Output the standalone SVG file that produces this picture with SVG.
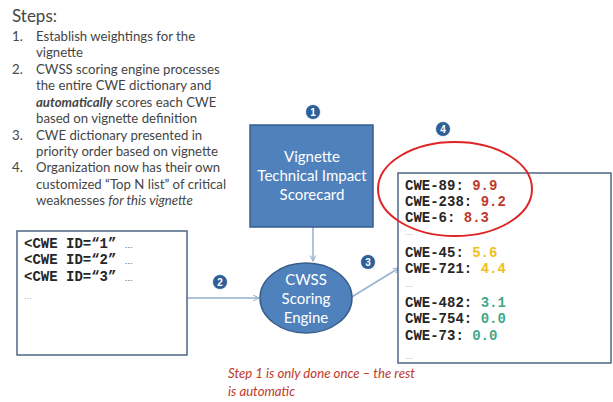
<svg xmlns="http://www.w3.org/2000/svg" width="613" height="402" viewBox="0 0 613 402">
<style>
.body{font-family:Lato,"Open Sans","Liberation Sans",sans-serif;fill:#454545;font-size:13.2px}
.mono{font-family:"Liberation Mono","Courier New",monospace;font-weight:bold;font-size:14px;fill:#262626}
.dots{font-family:"Liberation Sans",sans-serif;font-size:8px;fill:#7f7f7f}
.white{font-family:Lato,"Open Sans","Liberation Sans",sans-serif;font-size:15px;fill:#ffffff;text-anchor:middle}
.num{font-family:"Liberation Sans",sans-serif;font-weight:bold;font-size:10px;fill:#ffffff;text-anchor:middle}
.badge{fill:#2f5f98;stroke:#ffffff;stroke-width:0.8}
.conn{stroke:#95b0d0;stroke-width:1.5;fill:none;marker-end:url(#arr)}
.red{fill:#c0392b}.yel{fill:#f0c020}.grn{fill:#3fa88a}
</style>
<defs>
<marker id="arr" viewBox="0 0 10 10" refX="9" refY="5" markerWidth="7" markerHeight="7" orient="auto" markerUnits="userSpaceOnUse">
<path d="M1,1 L9,5 L1,9" fill="none" stroke="#95b0d0" stroke-width="1.5"/>
</marker>
</defs>
<rect width="613" height="402" fill="#ffffff"/>

<g id="steps">
<text x="12" y="22" class="body" style="font-size:17px">Steps:</text>
<text class="body">
<tspan x="12" y="41">1.</tspan><tspan x="36" y="41">Establish weightings for the</tspan>
<tspan x="36" y="57">vignette</tspan>
<tspan x="12" y="74">2.</tspan><tspan x="36" y="74">CWSS scoring engine processes</tspan>
<tspan x="36" y="90">the entire CWE dictionary and</tspan>
<tspan x="36" y="107" font-weight="bold" font-style="italic">automatically</tspan><tspan> scores each CWE</tspan>
<tspan x="36" y="123">based on vignette definition</tspan>
<tspan x="12" y="140">3.</tspan><tspan x="36" y="140">CWE dictionary presented in</tspan>
<tspan x="36" y="156">priority order based on vignette</tspan>
<tspan x="12" y="172">4.</tspan><tspan x="36" y="172">Organization now has their own</tspan>
<tspan x="36" y="189">customized “Top N list” of critical</tspan>
<tspan x="36" y="205">weaknesses </tspan><tspan font-style="italic">for this vignette</tspan>
</text>
</g>

<g id="connectors">
<line x1="187" y1="298" x2="259" y2="298" class="conn"/>
<line x1="313" y1="227" x2="313" y2="261" class="conn"/>
<line x1="350" y1="298" x2="399" y2="268" class="conn"/>
</g>

<g id="cwe-input">
<rect x="17" y="231" width="170" height="124" fill="#ffffff" stroke="#4f6785" stroke-width="1.5"/>
<text x="24" y="248" class="mono">&lt;CWE ID=“1” <tspan class="dots">…</tspan></text>
<text x="24" y="264" class="mono">&lt;CWE ID=“2” <tspan class="dots">…</tspan></text>
<text x="24" y="281" class="mono">&lt;CWE ID=“3” <tspan class="dots">…</tspan></text>
<text x="24" y="299" class="dots">…</text>
</g>

<g id="scorecard">
<rect x="250" y="125" width="123" height="102" fill="#4f81bd" stroke="#385d8a" stroke-width="1.5"/>
<text class="white"><tspan x="312" y="162">Vignette</tspan><tspan x="312" y="181">Technical Impact</tspan><tspan x="312" y="200">Scorecard</tspan></text>
</g>

<g id="engine">
<ellipse cx="306" cy="298" rx="46" ry="35" fill="#4f81bd" stroke="#385d8a" stroke-width="1.5"/>
<text class="white"><tspan x="306" y="285">CWSS</tspan><tspan x="306" y="304">Scoring</tspan><tspan x="306" y="323">Engine</tspan></text>
</g>

<g id="results">
<rect x="398" y="173" width="213" height="190" fill="#ffffff" stroke="#4f6785" stroke-width="1.5"/>
<text x="405" y="190" class="mono">CWE-89: <tspan class="red">9.9</tspan></text>
<text x="405" y="206" class="mono">CWE-238: <tspan class="red">9.2</tspan></text>
<text x="405" y="222" class="mono">CWE-6: <tspan class="red">8.3</tspan></text>
<text x="405" y="235" class="dots">…</text>
<text x="405" y="257" class="mono">CWE-45: <tspan class="yel">5.6</tspan></text>
<text x="405" y="273" class="mono">CWE-721: <tspan class="yel">4.4</tspan></text>
<text x="405" y="287" class="dots">…</text>
<text x="405" y="307" class="mono">CWE-482: <tspan class="grn">3.1</tspan></text>
<text x="405" y="323" class="mono">CWE-754: <tspan class="grn">0.0</tspan></text>
<text x="405" y="340" class="mono">CWE-73: <tspan class="grn">0.0</tspan></text>
<text x="405" y="359" class="dots">…</text>
</g>

<g id="highlight">
<ellipse cx="455" cy="189" rx="77" ry="47" fill="none" stroke="#e02424" stroke-width="2"/>
</g>

<g id="badge-1"><circle cx="313" cy="112" r="7.5" class="badge"/><text x="313" y="115.5" class="num">1</text></g>
<g id="badge-2"><circle cx="220" cy="282" r="7.5" class="badge"/><text x="220" y="285.5" class="num">2</text></g>
<g id="badge-3"><circle cx="368" cy="262" r="7.5" class="badge"/><text x="368" y="265.5" class="num">3</text></g>
<g id="badge-4"><circle cx="443" cy="129" r="7.5" class="badge"/><text x="443" y="132.5" class="num">4</text></g>

<g id="note">
<text font-family="Lato,'Open Sans','Liberation Sans',sans-serif" font-size="13.2" font-style="italic" fill="#c0392b"><tspan x="228" y="378">Step 1 is only done once – the rest</tspan><tspan x="228" y="396">is automatic</tspan></text>
</g>
</svg>
